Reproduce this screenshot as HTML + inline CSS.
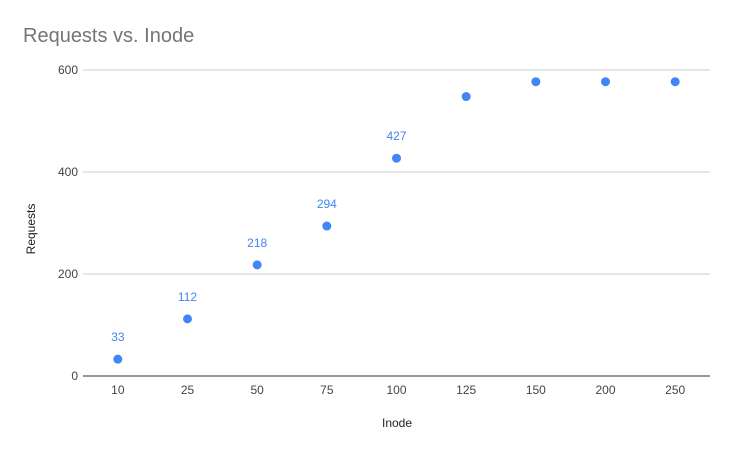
<!DOCTYPE html>
<html><head><meta charset="utf-8"><style>
body{margin:0;background:#fff;}
svg{display:block;font-family:"Liberation Sans",Arial,sans-serif;}
</style></head><body>
<svg id="chart" width="733" height="453">
<rect width="733" height="453" fill="#fff"/>
<text x="23" y="42" font-size="20" fill="#757575">Requests vs. Inode</text>
<g id="grid"></g><g id="marks"></g>
<text x="397" y="427" font-size="12" fill="#222" text-anchor="middle">Inode</text>
<text transform="translate(35,229) rotate(-90)" font-size="12" fill="#222" text-anchor="middle">Requests</text>
</svg>
<script>
const categories=["10","25","50","75","100","125","150","200","250"];
const requests=[33,112,218,294,427,548,577,577,577];
const showLabel=[true,true,true,true,true,false,false,false,false];
const yTicks=[0,200,400,600];
const NS="http://www.w3.org/2000/svg";
const pLeft=83,pRight=710,pTop=70,pBottom=376,yMax=600;
const band=(pRight-pLeft)/categories.length;
const xPos=i=>pLeft+band*(i+0.5);
const yPos=v=>pBottom-(v/yMax)*(pBottom-pTop);
function mk(tag,attrs,parent,text){const e=document.createElementNS(NS,tag);for(const k in attrs)e.setAttribute(k,attrs[k]);if(text!==undefined)e.textContent=text;parent.appendChild(e);return e;}
const grid=document.getElementById('grid'),marks=document.getElementById('marks');
yTicks.forEach(t=>{
 const l=mk('line',{x1:pLeft,x2:pRight,y1:yPos(t),y2:yPos(t),stroke:t===0?'#333':'#ccc','stroke-width':1},grid);
 
 
 const tx=mk('text',{x:pLeft-5,y:yPos(t)+4,'font-size':12,fill:'#444','text-anchor':'end'},grid,String(t));
 
 
});
categories.forEach((c,i)=>{
 const tx=mk('text',{x:xPos(i),y:pBottom+18,'font-size':12,fill:'#444','text-anchor':'middle'},grid,c);
 
 
 const p=mk('circle',{cx:xPos(i),cy:yPos(requests[i]),r:4.5,fill:'#4285f4'},marks);
 
 
 if(showLabel[i]){
  const lb=mk('text',{x:xPos(i),y:yPos(requests[i])-18,'font-size':12,fill:'#4285f4','text-anchor':'middle'},marks,String(requests[i]));
  
  
 }
});
</script>
</body></html>
